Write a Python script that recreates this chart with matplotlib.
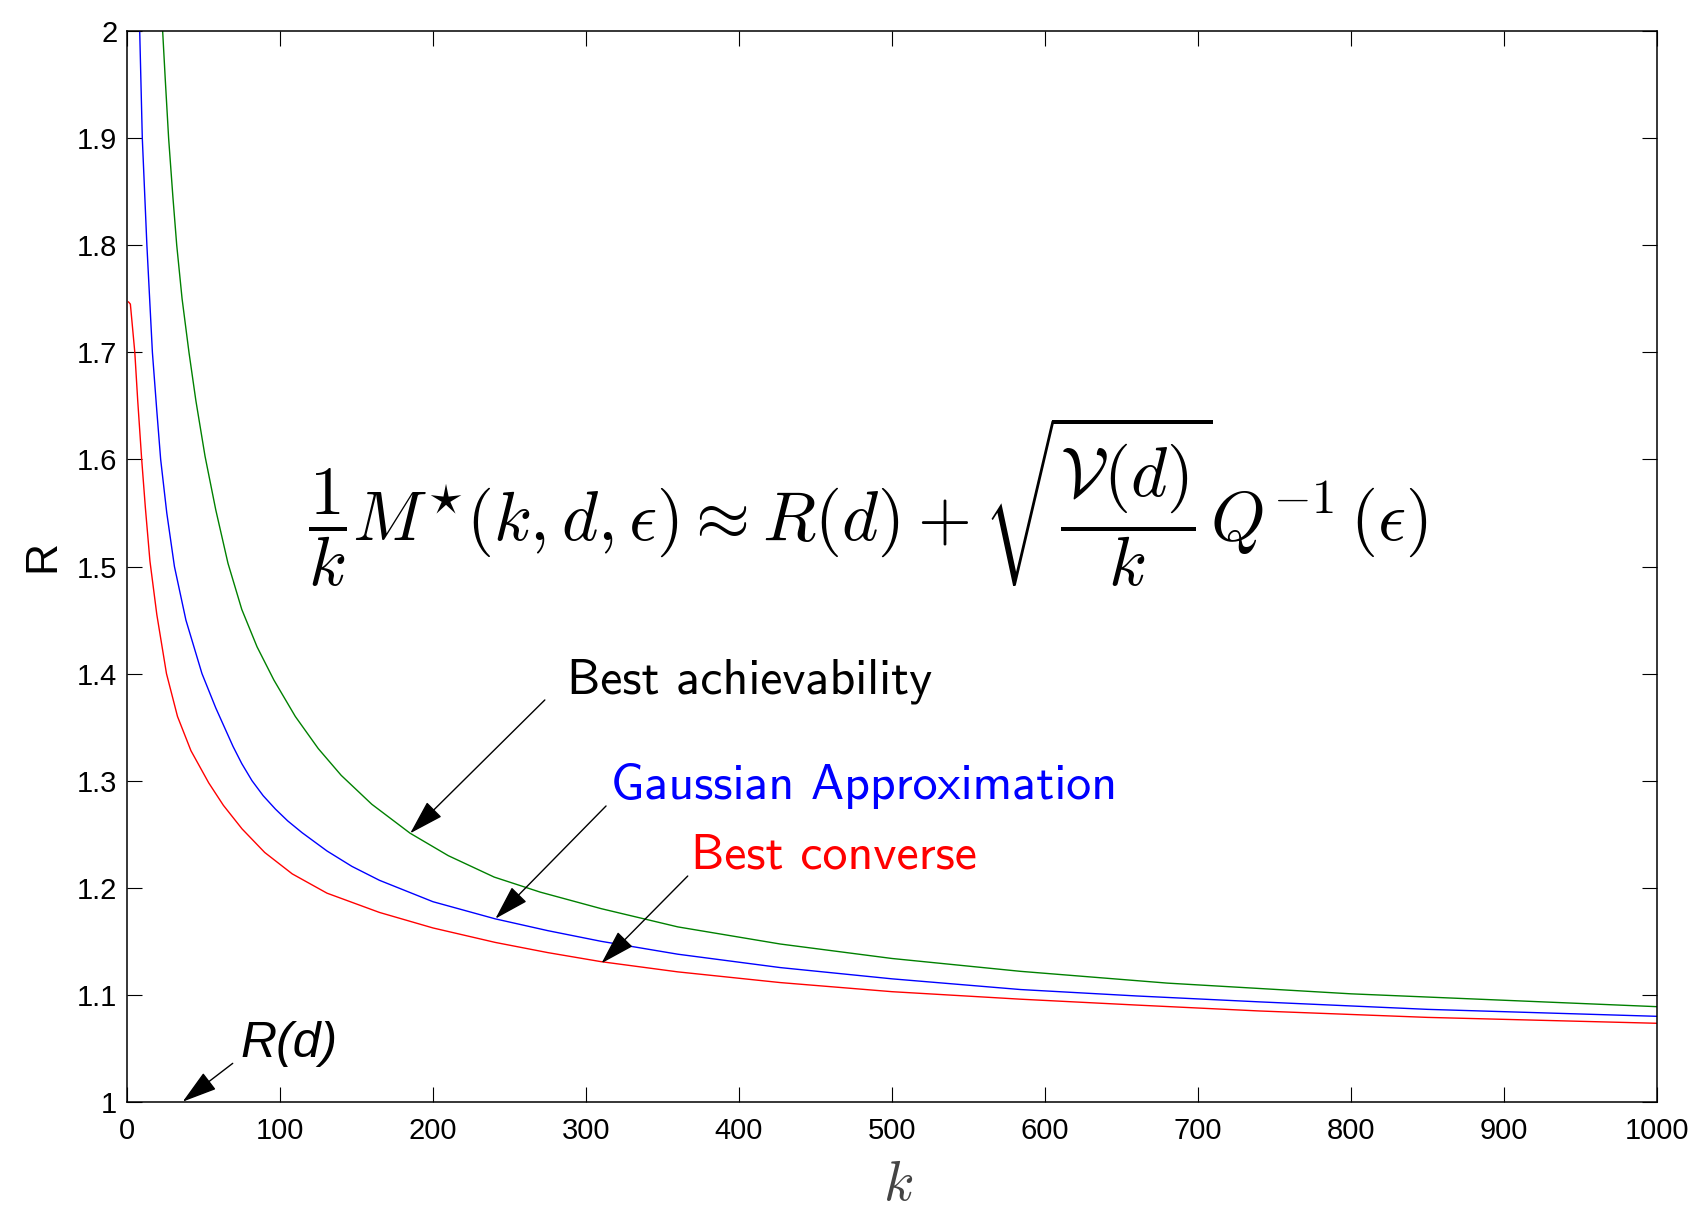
import matplotlib
matplotlib.use("Agg")
import matplotlib.pyplot as plt

# valeurs (k, R)
k_ach = [23.3, 25, 27.2, 30, 32.5, 36, 40.5, 45, 51, 58, 66, 75, 85, 96, 110, 125,
         140, 160, 185, 210, 240, 270, 310, 360, 427, 500, 584, 680, 800, 900, 1000]
R_ach = [2.0, 1.955, 1.9, 1.845, 1.8, 1.75, 1.7, 1.655, 1.603, 1.553, 1.503, 1.46,
         1.425, 1.394, 1.36, 1.33, 1.305, 1.278, 1.251, 1.23, 1.21, 1.196, 1.1805,
         1.1635, 1.1475, 1.134, 1.122, 1.111, 1.101, 1.095, 1.089]

k_gauss = [8.3, 10, 13, 16.6, 19.5, 22, 26, 31, 38.5, 49, 58, 69.3, 75, 81.7, 89,
           97, 105, 114.4, 130.7, 147, 165, 200, 240.7, 275, 310, 360, 427, 500,
           584, 660, 740, 850, 1000]
R_gauss = [2.0, 1.9, 1.8, 1.7, 1.645, 1.6, 1.55, 1.5, 1.45, 1.4, 1.368, 1.332,
           1.316, 1.3, 1.286, 1.2735, 1.2625, 1.2515, 1.2344, 1.22, 1.207, 1.187,
           1.171, 1.160, 1.150, 1.138, 1.1255, 1.115, 1.105, 1.099, 1.0935,
           1.0865, 1.080]

k_conv = [1, 2.2, 5.1, 7, 9.6, 12, 15, 19.5, 25.8, 33, 41.8, 53.4, 63, 75.2, 90,
          108, 130.7, 165, 200, 240.7, 275, 310, 360, 427, 500, 584, 660, 740,
          850, 1000]
R_conv = [1.747, 1.745, 1.7, 1.655, 1.6, 1.555, 1.505, 1.455, 1.4, 1.36, 1.328,
          1.298, 1.277, 1.255, 1.233, 1.213, 1.195, 1.177, 1.1625, 1.149, 1.1395,
          1.131, 1.1215, 1.1115, 1.103, 1.096, 1.0905, 1.085, 1.079, 1.0735]

x_ticks = list(range(0, 1001, 100))
y_ticks = [1, 1.1, 1.2, 1.3, 1.4, 1.5, 1.6, 1.7, 1.8, 1.9, 2]
y_ticklabels = ["1", "1.1", "1.2", "1.3", "1.4", "1.5", "1.6", "1.7", "1.8", "1.9", "2"]

plt.rcParams['mathtext.fontset'] = 'cm'
plt.rcParams['font.family'] = ['Liberation Sans', 'DejaVu Sans']

fig = plt.figure(figsize=(16.92, 12.12), dpi=100)
ax = fig.add_axes([127 / 1692, 1 - 1102 / 1212, 1530 / 1692, 1071 / 1212])

ax.plot(k_ach, R_ach, color='#008000', lw=1.0)
ax.plot(k_gauss, R_gauss, color='#0000ff', lw=1.0)
ax.plot(k_conv, R_conv, color='#ff0000', lw=1.0)

ax.set_xlim(0, 1000)
ax.set_ylim(1, 2)
ax.set_xticks(x_ticks)
ax.set_yticks(y_ticks)
ax.set_yticklabels(y_ticklabels)
ax.tick_params(direction='in', length=10.5, width=0.8, top=True, right=True,
               labelsize=21)
ax.tick_params(axis='x', pad=11)
ax.tick_params(axis='y', pad=7)
for s in ax.spines.values():
    s.set_linewidth(1.1)

# etiquettes des axes
fig.text(43 / 1692, 1 - 556 / 1212, 'R', rotation=90, fontsize=32,
         ha='center', va='center')
fig.text(898 / 1692, 1 - 1186 / 1212, r'$k$', fontsize=40, color='#444444',
         ha='center', va='center')

# formule
ax.text(484, 1.560,
        r'$\dfrac{1}{k}M^{\star}(k,d,\epsilon) \approx R(d) + \sqrt{\dfrac{\mathcal{V}(d)}{k}}Q^{-1}\,(\epsilon)$',
        fontsize=50, ha='center', va='center')

arr = dict(arrowstyle='-|>,head_length=1.1,head_width=0.33', color='black',
           lw=1.0, mutation_scale=20, shrinkA=0, shrinkB=0)

ax.text(287.5, 1.3816, 'Best achievability', family='cmss10', fontsize=36,
        color='black', va='baseline')
ax.annotate('', xy=(185.1, 1.2509), xytext=(273.1, 1.3754), arrowprops=arr)

ax.text(316.5, 1.2826, 'Gaussian Approximation', family='cmss10', fontsize=36,
        color='#0000ff', va='baseline')
ax.annotate('', xy=(240.8, 1.1712), xytext=(313.1, 1.2764), arrowprops=arr)

ax.text(368.5, 1.2182, 'Best converse', family='cmss10', fontsize=36,
        color='#ff0000', va='baseline')
ax.annotate('', xy=(310.1, 1.1295), xytext=(366.5, 1.2110), arrowprops=arr)

ax.text(74.3, 1.0423, 'R(d)', fontsize=36, style='italic', va='baseline')
ax.annotate('', xy=(36.4, 1.0003), xytext=(69.1, 1.0361), arrowprops=arr,
            annotation_clip=False)

fig.savefig('out.png', dpi=100)
